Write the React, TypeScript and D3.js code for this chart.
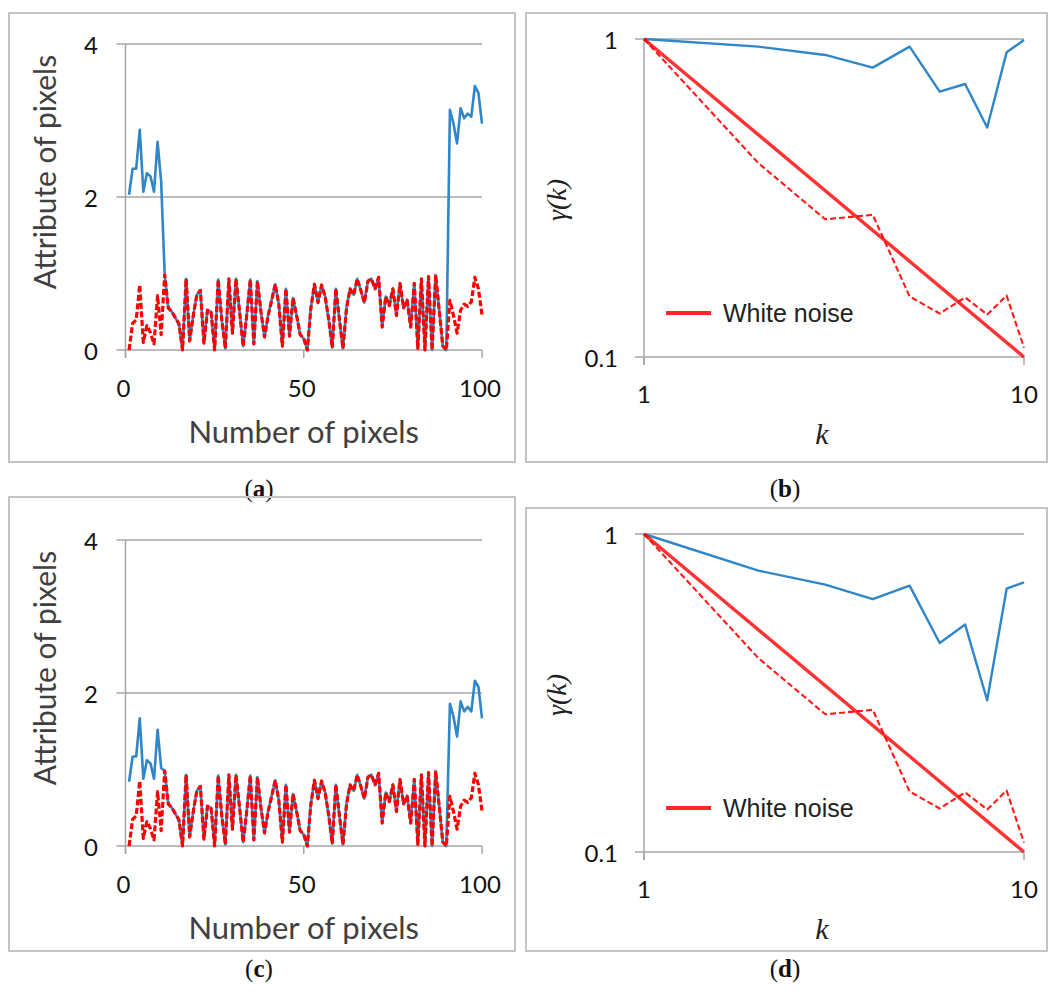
import React from "react";
import * as d3 from "d3";

// ---- data ----------------------------------------------------------------
// pixel attribute of the noise profile (pixels 1..100)
const noiseAttr = [
  0.0, 0.35, 0.39, 0.85, 0.1, 0.32, 0.23, 0.08, 0.71, 0.2,
  0.98, 0.55, 0.5, 0.42, 0.34, 0.0, 0.93, 0.12, 0.45, 0.72,
  0.78, 0.09, 0.52, 0.5, 0.0, 0.92, 0.4, 0.02, 0.93, 0.22,
  0.93, 0.5, 0.05, 0.45, 0.92, 0.08, 0.9, 0.5, 0.17, 0.45,
  0.65, 0.86, 0.6, 0.05, 0.8, 0.18, 0.68, 0.45, 0.2, 0.15,
  0.0, 0.55, 0.86, 0.62, 0.85, 0.7, 0.4, 0.03, 0.8, 0.4,
  0.02, 0.55, 0.8, 0.72, 0.93, 0.78, 0.62, 0.9, 0.93, 0.8,
  0.95, 0.3, 0.7, 0.58, 0.8, 0.45, 0.87, 0.55, 0.65, 0.3,
  0.87, 0.02, 0.93, 0.0, 0.96, 0.0, 0.98, 0.52, 0.05, 0.0,
  0.65, 0.45, 0.22, 0.52, 0.6, 0.57, 0.63, 0.95, 0.8, 0.46,
];

// edge pixels of the signal profile (pixels 1..10 and 91..100)
const signalLeftA = [2.03, 2.37, 2.37, 2.88, 2.07, 2.31, 2.27, 2.07, 2.72, 2.2];
const signalRightA = [3.14, 2.96, 2.7, 3.16, 3.03, 3.09, 3.05, 3.45, 3.36, 2.96];
const signalLeftC = [0.84, 1.17, 1.17, 1.67, 0.88, 1.12, 1.08, 0.88, 1.52, 1.02];
const signalRightC = [1.86, 1.69, 1.43, 1.89, 1.76, 1.82, 1.76, 2.16, 2.08, 1.67];

// correlation γ(k) against lag k
const lags = [1, 2, 3, 4, 5, 6, 7, 8, 9, 10];
const noiseGamma = [1, 0.407, 0.271, 0.28, 0.155, 0.137, 0.154, 0.136, 0.156, 0.107];
const signalGammaB = [1, 0.946, 0.891, 0.813, 0.946, 0.683, 0.722, 0.527, 0.908, 0.993];
const signalGammaD = [1, 0.767, 0.693, 0.624, 0.688, 0.454, 0.519, 0.3, 0.673, 0.705];
const whiteNoiseLags = [1, 10];
const whiteNoiseGamma = [1, 0.1];

const attrTicks = [0, 2, 4];
const pixelTicks = [0, 50, 100];
const gammaTicks = [0.1, 1];
const lagTicks = [1, 10];
const gammaTickLabels = ["0.1", "1"];

const pixels = d3.range(1, noiseAttr.length + 1);

// ---- styles --------------------------------------------------------------
const GRID = "#a6a6a6";
const BLUE = "#2f86c8";
const RED = "#ff0000";
const BORDER = "#c4c4c4";
const SANS = "Lato, 'Open Sans', sans-serif";
const ARIAL = "'Liberation Sans', Arial, sans-serif";
const SERIF = "'Liberation Serif', 'Times New Roman', serif";

type Box = { x0: number; y0: number; x1: number; y1: number };

function Frame({ box }: { box: Box }) {
  return (
    <rect
      x={box.x0}
      y={box.y0}
      width={box.x1 - box.x0}
      height={box.y1 - box.y0}
      fill="none"
      stroke={BORDER}
      strokeWidth={2}
    />
  );
}

function Caption({ x, y, letter }: { x: number; y: number; letter: string }) {
  return (
    <text x={x} y={y} textAnchor="middle" dominantBaseline="central" fontFamily={SERIF} fontSize={25} fill="#111">
      (<tspan fontWeight="bold">{letter}</tspan>)
    </text>
  );
}

function AttributePanel({
  box,
  yBottom,
  yTop,
  signal,
  letter,
  captionY,
}: {
  box: Box;
  yBottom: number;
  yTop: number;
  signal: number[];
  letter: string;
  captionY: number;
}) {
  const x = d3.scaleLinear().domain([0, 100]).range([125.5, 482]);
  const y = d3.scaleLinear().domain([0, 4]).range([yBottom, yTop]);
  const line = d3
    .line<number>()
    .x((_, i) => x(pixels[i]))
    .y((d) => y(d));
  const midX = (x(0) + x(100)) / 2;
  return (
    <g>
      <Frame box={box} />
      {attrTicks.map((t) => (
        <g key={t}>
          <line x1={x(0) - 9} x2={x(100)} y1={y(t)} y2={y(t)} stroke={GRID} strokeWidth={1.5} />
          <text x={98} y={y(t)} textAnchor="end" dominantBaseline="central" fontFamily={SANS} fontSize={24} fill="#111">
            {t}
          </text>
        </g>
      ))}
      <line x1={x(0)} x2={x(0)} y1={y(4)} y2={y(0) + 8} stroke={GRID} strokeWidth={1.5} />
      {pixelTicks.map((t) => (
        <g key={t}>
          <line x1={x(t)} x2={x(t)} y1={y(0)} y2={y(0) + 8} stroke={GRID} strokeWidth={1.5} />
          <text x={x(t) - 2} y={y(0) + 37} textAnchor="middle" dominantBaseline="central" fontFamily={SANS} fontSize={24} fill="#111">
            {t}
          </text>
        </g>
      ))}
      <path d={line(signal) ?? ""} fill="none" stroke={BLUE} strokeWidth={2.6} strokeLinejoin="round" />
      <path
        d={line(noiseAttr) ?? ""}
        fill="none"
        stroke={RED}
        strokeWidth={3.2}
        strokeDasharray="6 2.5"
        strokeLinejoin="round"
      />
      <text
        transform={`translate(44, ${y(0) - 178}) rotate(-90)`}
        textAnchor="middle"
        dominantBaseline="central"
        fontFamily={SANS}
        fontSize={30}
        fill="#404040"
      >
        Attribute of pixels
      </text>
      <text x={midX} y={y(0) + 81} textAnchor="middle" dominantBaseline="central" fontFamily={SANS} fontSize={31} fill="#404040">
        Number of pixels
      </text>
      <Caption x={259} y={captionY} letter={letter} />
    </g>
  );
}

function GammaPanel({
  box,
  yBottom,
  yTop,
  signal,
  letter,
  captionY,
}: {
  box: Box;
  yBottom: number;
  yTop: number;
  signal: number[];
  letter: string;
  captionY: number;
}) {
  const x = d3.scaleLog().domain([1, 10]).range([644, 1024]);
  const y = d3.scaleLog().domain([0.1, 1]).range([yBottom, yTop]);
  const line = d3
    .line<number>()
    .x((_, i) => x(lags[i]))
    .y((d) => y(d));
  const whiteLine = d3
    .line<number>()
    .x((_, i) => x(whiteNoiseLags[i]))
    .y((d) => y(d));
  const midX = (x(1) + x(10)) / 2;
  const legendY = y(0.1) - 44;
  return (
    <g>
      <Frame box={box} />
      {gammaTicks.map((t, i) => (
        <g key={t}>
          <line x1={x(1) - 9} x2={x(10)} y1={y(t)} y2={y(t)} stroke={GRID} strokeWidth={1.5} />
          <text x={618} y={y(t)} textAnchor="end" dominantBaseline="central" fontFamily={SANS} fontSize={24} fill="#111">
            {gammaTickLabels[i]}
          </text>
        </g>
      ))}
      <line x1={x(1)} x2={x(1)} y1={y(1)} y2={y(0.1) + 8} stroke={GRID} strokeWidth={1.5} />
      {lagTicks.map((t) => (
        <g key={t}>
          <line x1={x(t)} x2={x(t)} y1={y(0.1)} y2={y(0.1) + 8} stroke={GRID} strokeWidth={1.5} />
          <text x={x(t)} y={y(0.1) + 36} textAnchor="middle" dominantBaseline="central" fontFamily={SANS} fontSize={24} fill="#111">
            {t}
          </text>
        </g>
      ))}
      <path d={line(signal) ?? ""} fill="none" stroke={BLUE} strokeWidth={2.4} strokeLinejoin="round" />
      <path d={whiteLine(whiteNoiseGamma) ?? ""} fill="none" stroke={RED} strokeOpacity={0.8} strokeWidth={3.4} />
      <path
        d={line(noiseGamma) ?? ""}
        fill="none"
        stroke={RED}
        strokeOpacity={0.9}
        strokeWidth={2.1}
        strokeDasharray="6 3"
        strokeLinejoin="round"
      />
      <line x1={666} x2={711} y1={legendY} y2={legendY} stroke={RED} strokeOpacity={0.85} strokeWidth={4} />
      <text x={723} y={legendY} dominantBaseline="central" fontFamily={ARIAL} fontSize={25} fill="#222">
        White noise
      </text>
      <text
        transform={`translate(556, ${(y(1) + y(0.1)) / 2 + 2}) rotate(-90)`}
        textAnchor="middle"
        dominantBaseline="central"
        fontFamily={SERIF}
        fontStyle="italic"
        fontSize={28}
        fill="#222"
      >
        γ(k)
      </text>
      <text x={midX - 12} y={y(0.1) + 76} textAnchor="middle" dominantBaseline="central" fontFamily={SERIF} fontStyle="italic" fontSize={30} fill="#222">
        k
      </text>
      <Caption x={785} y={captionY} letter={letter} />
    </g>
  );
}

export default function App() {
  const signalA = [...signalLeftA, ...noiseAttr.slice(10, 90), ...signalRightA];
  const signalC = [...signalLeftC, ...noiseAttr.slice(10, 90), ...signalRightC];
  return (
    <svg
      width={1055}
      height={996}
      viewBox="0 0 1055 996"
      style={{ position: "absolute", left: 0, top: 0, background: "#fff" }}
    >
      <rect x={0} y={0} width={1055} height={996} fill="#fff" />
      <AttributePanel box={{ x0: 9, y0: 13, x1: 515, y1: 462 }} yBottom={350} yTop={44} signal={signalA} letter="a" captionY={488} />
      <GammaPanel box={{ x0: 526, y0: 13, x1: 1047, y1: 462 }} yBottom={357} yTop={39} signal={signalGammaB} letter="b" captionY={488} />
      <AttributePanel box={{ x0: 9, y0: 497, x1: 515, y1: 951 }} yBottom={846} yTop={540} signal={signalC} letter="c" captionY={968} />
      <GammaPanel box={{ x0: 526, y0: 508, x1: 1047, y1: 951 }} yBottom={852} yTop={534} signal={signalGammaD} letter="d" captionY={968} />
    </svg>
  );
}
